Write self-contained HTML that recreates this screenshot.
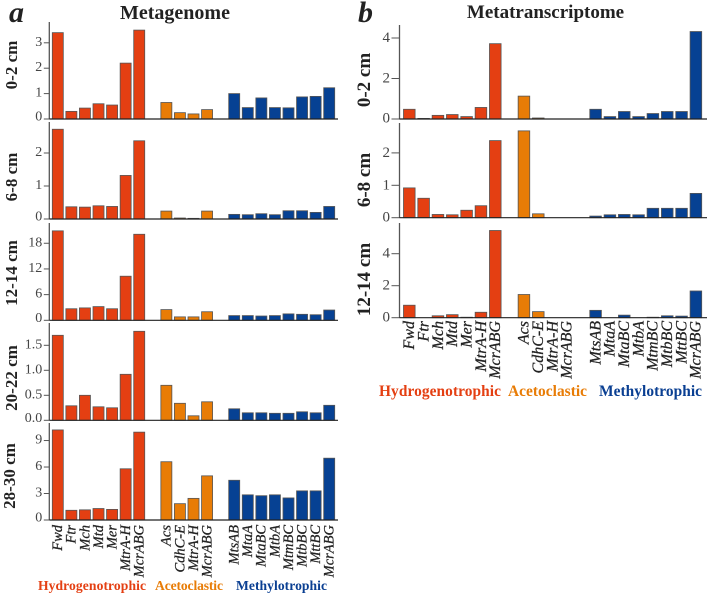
<!DOCTYPE html>
<html>
<head>
<meta charset="utf-8">
<title>Metagenome and Metatranscriptome</title>
<style>
html,body{margin:0;padding:0;background:#fff;}
#figure{display:block;width:709px;height:596px;font-family:"Liberation Serif",serif;}
</style>
</head>
<body>
<svg id="figure" xmlns="http://www.w3.org/2000/svg" width="709" height="596" viewBox="0 0 709 596">
  <text x="9" y="22" font-size="30" font-weight="bold" font-style="italic" fill="#222">a</text>
  <text x="175" y="19" font-size="20" font-weight="bold" text-anchor="middle" fill="#222">Metagenome</text>
  <text x="358" y="22" font-size="30" font-weight="bold" font-style="italic" fill="#222">b</text>
  <text x="545.5" y="18" font-size="19" font-weight="bold" text-anchor="middle" fill="#222">Metatranscriptome</text>

  <text x="38" y="590" font-size="13.6" font-weight="bold" fill="#e43f12" textLength="108">Hydrogenotrophic</text>
  <text x="155" y="590" font-size="13.6" font-weight="bold" fill="#e87c06" textLength="68">Acetoclastic</text>
  <text x="236" y="590" font-size="13.6" font-weight="bold" fill="#0a3f92" textLength="91">Methylotrophic</text>
  <text x="379" y="396" font-size="15.4" font-weight="bold" fill="#e43f12" textLength="122">Hydrogenotrophic</text>
  <text x="508" y="396" font-size="15.4" font-weight="bold" fill="#e87c06" textLength="79">Acetoclastic</text>
  <text x="599" y="396" font-size="15.4" font-weight="bold" fill="#0a3f92" textLength="103">Methylotrophic</text>
  <g id="marks"></g>
</svg>
<script>
// Categories
const hydrogenotrophicGenes = ["Fwd","Ftr","Mch","Mtd","Mer","MtrA-H","McrABG"];
const acetoclasticGenes = ["Acs","CdhC-E","MtrA-H","McrABG"];
const methylotrophicGenes = ["MtsAB","MtaA","MtaBC","MtbA","MtmBC","MtbBC","MttBC","McrABG"];

// Metagenome series (hydrogenotrophic, acetoclastic, methylotrophic, in order)
const metagenome0to2 = [3.4,0.3,0.43,0.6,0.55,2.2,3.5, 0.65,0.25,0.2,0.37, 1.0,0.45,0.83,0.45,0.44,0.87,0.89,1.23];
const metagenome6to8 = [2.72,0.37,0.36,0.4,0.38,1.32,2.37, 0.24,0.03,0.02,0.24, 0.14,0.13,0.16,0.13,0.25,0.25,0.2,0.38];
const metagenome12to14 = [20.9,2.7,2.9,3.2,2.7,10.3,20.1, 2.5,0.8,0.8,2.0, 1.1,1.1,1.0,1.1,1.5,1.4,1.3,2.4];
const metagenome20to22 = [1.7,0.29,0.5,0.27,0.25,0.92,1.78, 0.7,0.34,0.09,0.37, 0.23,0.15,0.15,0.14,0.14,0.17,0.15,0.3];
const metagenome28to30 = [10.2,1.1,1.15,1.3,1.2,5.8,9.95, 6.6,1.85,2.45,5.0, 4.5,2.85,2.75,2.85,2.5,3.3,3.3,7.0];

// Metatranscriptome series
const transcriptome0to2 = [0.48,0.03,0.18,0.22,0.12,0.57,3.72, 1.13,0.05,0,0, 0.48,0.12,0.37,0.12,0.27,0.37,0.37,4.32];
const transcriptome6to8 = [0.92,0.6,0.1,0.09,0.23,0.37,2.38, 2.68,0.12,0,0, 0.05,0.09,0.1,0.09,0.29,0.29,0.29,0.75];
const transcriptome12to14 = [0.78,0,0.12,0.19,0.03,0.34,5.45, 1.45,0.38,0,0, 0.46,0,0.16,0,0.03,0.12,0.1,1.67];

// Tick labels
const ticksA1 = ["0","1","2","3"];
const ticksA2 = ["0","1","2"];
const ticksA3 = ["0","6","12","18"];
const ticksA4 = ["0.0","0.5","1.0","1.5"];
const ticksA5 = ["0","3","6","9"];
const ticksB1 = ["0","2","4"];
const ticksB2 = ["0","1","2"];
const ticksB3 = ["0","2","4"];

const SVG_NS = "http://www.w3.org/2000/svg";
const root = document.getElementById("marks");
const COLORS = ["#e43f12","#e87c06","#064193"];

function svgEl(tag, attrs, parent){
  const el = document.createElementNS(SVG_NS, tag);
  for (const k in attrs) el.setAttribute(k, attrs[k]);
  parent.appendChild(el);
  return el;
}

// Slot layout: group members with a one-slot gap between groups
function slotList(){
  const out = [];
  let s = 0;
  [hydrogenotrophicGenes, acetoclasticGenes, methylotrophicGenes].forEach(function(genes, g){
    genes.forEach(function(name){
      out.push({slot:s, group:g, name:name});
      s++;
    });
    s++;
  });
  return out;
}

function drawPanel(cfg, values, tickLabels){
  const slots = slotList();
  const xScale = function(slot){ return cfg.x0 + slot * cfg.pitch; };
  const yScale = function(v){ return cfg.baseY - v * cfg.pxPerUnit; };

  const g = svgEl("g", {}, root);
  
  

  slots.forEach(function(s, i){
    const v = values[i];
    if (v <= 0) return;
    const y = yScale(v);
    const bar = svgEl("rect", {
      x: xScale(s.slot), y: y, width: cfg.barW, height: Math.max(0, cfg.baseY - y),
      fill: COLORS[s.group], stroke: "#555", "stroke-width": 0.8
    }, g);
    
    
  });

  const yAxis = svgEl("line", {x1: cfg.axisX, x2: cfg.axisX, y1: cfg.topY, y2: cfg.baseY, stroke: "#555", "stroke-width": 1.3}, g);
  
  

  const xAxis = svgEl("line", {x1: cfg.axisX, x2: cfg.xEnd, y1: cfg.baseY, y2: cfg.baseY, stroke: "#222", "stroke-width": 1.2}, g);
  
  

  tickLabels.forEach(function(label){
    const ty = yScale(parseFloat(label));
    const tick = svgEl("line", {x1: cfg.axisX - cfg.tickLen, x2: cfg.axisX, y1: ty, y2: ty, stroke: "#555", "stroke-width": 1}, g);
    
    
    const t = svgEl("text", {
      x: cfg.axisX - cfg.tickLen - 1.5, y: ty + (parseFloat(label) === 0 ? cfg.zeroDy : cfg.tickDy),
      "font-size": cfg.tickFont, "text-anchor": "end", fill: "#444"
    }, g);
    t.textContent = label;
    
    
  });

  const r = svgEl("text", {
    transform: "translate(" + cfg.rowX + "," + cfg.rowY + ") rotate(-90)",
    "font-size": cfg.rowFont, "font-weight": "bold", "text-anchor": "middle", fill: "#222"
  }, g);
  r.textContent = cfg.row;
  
  

  if (cfg.labelY) {
    slots.forEach(function(s){
      const lx = xScale(s.slot) + cfg.barW / 2 + cfg.labelFont * 0.3;
      const t = svgEl("text", {
        transform: "translate(" + lx + "," + cfg.labelY + ") rotate(-90)",
        "font-size": cfg.labelFont, "font-style": "italic", "text-anchor": "end", fill: "#222",
        stroke: "#222", "stroke-width": 0.25
      }, g);
      t.textContent = s.name;
      
      
    });
  }
}

const aBase = {x0:52.3, pitch:13.57, barW:11, axisX:49.3, xEnd:338, tickLen:5.5, tickFont:14, tickDy:3, zeroDy:1.5, rowFont:17, rowX:17};
const bBase = {x0:403.5, pitch:14.33, barW:11.6, axisX:399.5, xEnd:707, tickLen:8, tickFont:15, tickDy:4, zeroDy:3.7, rowFont:19, rowX:370};

drawPanel(Object.assign({}, aBase, {id:"a-0-2", row:"0-2 cm", rowY:65, baseY:119, topY:22, pxPerUnit:25.4}), metagenome0to2, ticksA1);
drawPanel(Object.assign({}, aBase, {id:"a-6-8", row:"6-8 cm", rowY:177, baseY:219, topY:122, pxPerUnit:33}), metagenome6to8, ticksA2);
drawPanel(Object.assign({}, aBase, {id:"a-12-14", row:"12-14 cm", rowY:273, baseY:320.3, topY:223, pxPerUnit:4.28}), metagenome12to14, ticksA3);
drawPanel(Object.assign({}, aBase, {id:"a-20-22", row:"20-22 cm", rowY:378, baseY:420.3, topY:323, pxPerUnit:50}), metagenome20to22, ticksA4);
drawPanel(Object.assign({}, aBase, {id:"a-28-30", row:"28-30 cm", rowY:476, rowX:15, baseY:520, topY:423, pxPerUnit:8.83, labelY:525, labelFont:14.5}), metagenome28to30, ticksA5);

drawPanel(Object.assign({}, bBase, {id:"b-0-2", row:"0-2 cm", rowY:80, baseY:119, topY:25, pxPerUnit:20.25}), transcriptome0to2, ticksB1);
drawPanel(Object.assign({}, bBase, {id:"b-6-8", row:"6-8 cm", rowY:180, baseY:217.7, topY:123, pxPerUnit:32.4}), transcriptome6to8, ticksB2);
drawPanel(Object.assign({}, bBase, {id:"b-12-14", row:"12-14 cm", rowY:279.5, baseY:317.7, topY:223, pxPerUnit:16, labelY:321, labelFont:16}), transcriptome12to14, ticksB3);
</script>
</body>
</html>
